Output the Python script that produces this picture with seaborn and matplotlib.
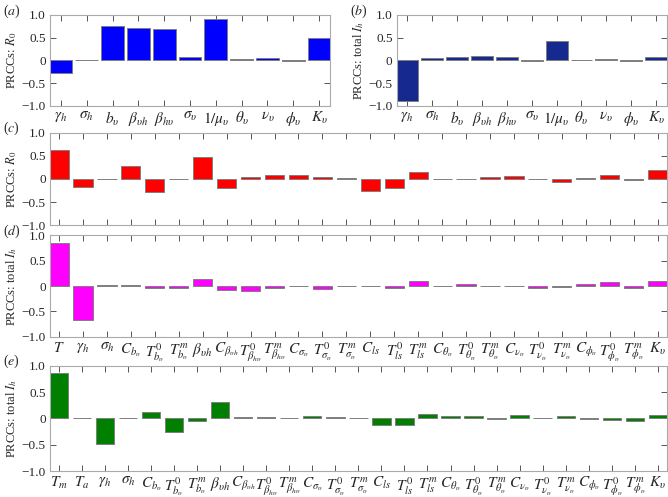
import matplotlib
matplotlib.use('Agg')
import matplotlib.pyplot as plt
import matplotlib.transforms as mtransforms
import seaborn as sns

# parameter labels
ab_labels = [r'$\gamma_h$', r'$\sigma_h$', r'$b_\upsilon$', r'$\beta_{\upsilon h}$', r'$\beta_{h\upsilon}$',
             r'$\sigma_\upsilon$', r'$1/\mu_\upsilon$', r'$\theta_\upsilon$', r'$\nu_\upsilon$',
             r'$\phi_\upsilon$', r'$K_\upsilon$']
d_labels = [r'$T$', r'$\gamma_h$', r'$\sigma_h$', r'$C_{b_\upsilon}$', r'$T^0_{b_\upsilon}$', r'$T^m_{b_\upsilon}$',
            r'$\beta_{\upsilon h}$', r'$C_{\beta_{\upsilon h}}$', r'$T^0_{\beta_{h\upsilon}}$', r'$T^m_{\beta_{h\upsilon}}$',
            r'$C_{\sigma_\upsilon}$', r'$T^0_{\sigma_\upsilon}$', r'$T^m_{\sigma_\upsilon}$',
            r'$C_{ls}$', r'$T^0_{ls}$', r'$T^m_{ls}$',
            r'$C_{\theta_\upsilon}$', r'$T^0_{\theta_\upsilon}$', r'$T^m_{\theta_\upsilon}$',
            r'$C_{\nu_\upsilon}$', r'$T^0_{\nu_\upsilon}$', r'$T^m_{\nu_\upsilon}$',
            r'$C_{\phi_\upsilon}$', r'$T^0_{\phi_\upsilon}$', r'$T^m_{\phi_\upsilon}$', r'$K_\upsilon$']
e_labels = [r'$T_m$', r'$T_a$'] + d_labels[1:]

# PRCC values
a_vals = [-0.285, 0.0, 0.75, 0.71, 0.68, 0.07, 0.90, 0.02, 0.05, -0.02, 0.49]
b_vals = [-0.90, 0.05, 0.07, 0.10, 0.08, -0.01, 0.43, 0.01, 0.025, -0.01, 0.065]
c_vals = [0.63, -0.17, -0.01, 0.29, -0.29, 0.0, 0.48, -0.20, 0.04, 0.09, 0.09, 0.035, 0.01,
          -0.26, -0.19, 0.16, -0.01, 0.005, 0.04, 0.06, 0.005, -0.07, 0.03, 0.09, -0.03, 0.20]
d_vals = [0.85, -0.67, 0.02, 0.025, -0.035, -0.04, 0.14, -0.085, -0.105, -0.03, -0.005, -0.05, 0.01,
          -0.005, -0.035, 0.10, 0.0, 0.045, 0.01, 0.0, -0.03, -0.025, 0.04, 0.075, -0.03, 0.09]
e_vals = [0.87, 0.01, -0.48, 0.0, 0.12, -0.26, -0.05, 0.32, 0.03, 0.02, 0.015, 0.05, 0.03,
          0.005, -0.13, -0.13, 0.09, 0.045, 0.04, -0.01, 0.065, 0.015, 0.05, -0.005, -0.025, -0.05, 0.065]

sns.set_style('white')
plt.rcParams['font.family'] = ['Liberation Serif', 'DejaVu Serif']
plt.rcParams['mathtext.fontset'] = 'stix'

fig = plt.figure(figsize=(6.68, 4.97), dpi=100)


def panel(rect, labels, values, color, width, ylabel, tag, show_labels=True):
    ax = fig.add_axes(rect)
    sns.barplot(x=labels, y=values, order=labels, color=color, saturation=1, width=width,
                edgecolor='#808080', linewidth=0.7, ax=ax)
    n = len(labels)
    pad = (1 - width) / 2 + 0.02
    ax.set_xlim(-0.5 + pad, n - 0.5 - pad)
    ax.set_ylim(-1, 1)
    ax.set_yticks([-1, -0.5, 0, 0.5, 1])
    ax.set_yticklabels(['\u22121.0', '\u22120.5', '0', '0.5', '1.0'])
    ax.tick_params(direction='in', length=4, width=0.7, color='#555555', labelsize=9.5,
                   top=True, right=True, bottom=True, left=True, pad=3)
    ax.tick_params(axis='x', labelsize=11)
    if not show_labels:
        ax.set_xticklabels([])
    for s in ax.spines.values():
        s.set_color('#aaaaaa')
        s.set_linewidth(0.8)
    ax.set_ylabel(ylabel, fontsize=9, labelpad=2)
    ax.set_xlabel('')
    off = mtransforms.ScaledTranslation(-47 / 100, 4 / 100, fig.dpi_scale_trans)
    ax.text(0, 1.0, tag, transform=ax.transAxes + off, fontsize=10,
            ha='left', va='center')
    return ax


L = 50 / 668
panel([L, 0.787, 330 / 668 - L, 0.183], ab_labels, a_vals, '#0000ff', 0.88,
      r'PRCCs: $R_0$', r'($a$)')
panel([396.7 / 668, 0.787, 0.998 - 396.7 / 668, 0.183], ab_labels, b_vals, '#15298f', 0.88,
      r'PRCCs: total $I_h$', r'($b$)')
panel([L, 0.547, 0.998 - L, 0.186], d_labels, c_vals, '#ff0000', 0.8,
      r'PRCCs: $R_0$', r'($c$)', show_labels=False)
panel([L, 0.322, 0.998 - L, 0.205], d_labels, d_vals, '#ff00ff', 0.8,
      r'PRCCs: total $I_h$', r'($d$)')
panel([L, 0.052, 0.998 - L, 0.212], e_labels, e_vals, '#007f00', 0.8,
      r'PRCCs: total $I_h$', r'($e$)')

fig.savefig('out.png', dpi=100)
